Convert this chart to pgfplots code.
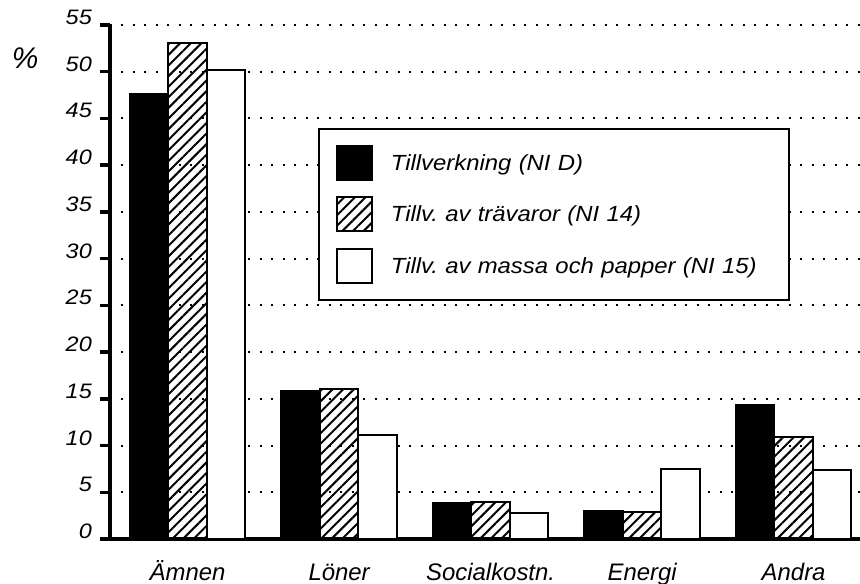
\documentclass[border=0pt]{standalone}
\usepackage{fontspec}
\setmainfont{Liberation Sans}
\newfontfamily\widefont[FakeStretch=1.12]{Liberation Sans}
\newfontfamily\legfont[FakeStretch=1.09]{Liberation Sans}
\usepackage{pgfplots}
\pgfplotsset{compat=1.18}
\usetikzlibrary{patterns.meta}
\pgfplotsset{mylegend/.style={legend image code/.code={\draw[##1] (0bp,-17bp) rectangle (35bp,17bp);}}}
\begin{document}
\frenchspacing
\begin{tikzpicture}
\begin{axis}[
  scale only axis,
  width=750bp, height=514bp,
  xmin=-0.512, xmax=4.438,
  ymin=0, ymax=55,
  axis lines*=left,
  axis line style={line width=4bp},
  ybar=0pt, bar width=38.5bp,
  xtick={0,1,2,3,4},
  xticklabels={Ämnen,Löner,Socialkostn.,Energi,Andra},
  major x tick style={draw=none},
  xticklabel style={anchor=base, yshift=-31bp, inner sep=0pt, text depth=0pt, font=\itshape\fontsize{24}{24}\selectfont},
  ytick={0,5,...,55},
  tick align=outside,
  major tick length=10bp,
  major y tick style={line width=3.5bp, black},
  /pgf/number format/assume math mode=true,
  yticklabel style={anchor=base east, inner sep=0pt, xshift=-8bp, yshift=0.5bp, font=\widefont\itshape\fontsize{21}{21}\selectfont},
  ymajorgrids,
  major grid style={black, line width=2bp, dash pattern=on 2bp off 9.5bp},
  ylabel={\%},
  every axis y label/.style={at={(rel axis cs:-0.113,0.935)}, anchor=center, font=\itshape\fontsize{30}{30}\selectfont},
  legend style={at={(rel axis cs:0.2773,0.7996)}, anchor=north west, draw=black, line width=1.8bp, fill=white,
    inner xsep=17bp, inner ysep=16bp, row sep=15.5bp,
    font=\legfont\itshape\fontsize{22}{22}\selectfont,
    nodes={text width=381bp, inner xsep=0pt},
    /tikz/every odd column/.append style={column sep=18bp}},
  legend cell align=left,
]
\addplot[fill=black, draw=black, line width=2bp, mylegend]
  coordinates {(0,47.6) (1,15.8) (2,3.9) (3,3.0) (4,14.3)};
\addplot[pattern={Lines[angle=45, distance=7.5bp, line width=2bp]}, draw=black, line width=2bp, mylegend]
  coordinates {(0,53.1) (1,16.0) (2,4.0) (3,2.9) (4,10.9)};
\addplot[fill=white, draw=black, line width=2bp, mylegend]
  coordinates {(0,50.2) (1,11.1) (2,2.8) (3,7.5) (4,7.4)};
\legend{Tillverkning (NI D), Tillv. av trävaror (NI 14), Tillv. av massa och papper (NI 15)}
\end{axis}
\pgfresetboundingbox
\path[use as bounding box] ([shift={(-110bp,-45bp)}]current axis.south west) rectangle ([shift={(0bp,25bp)}]current axis.north east);
\end{tikzpicture}
\end{document}
